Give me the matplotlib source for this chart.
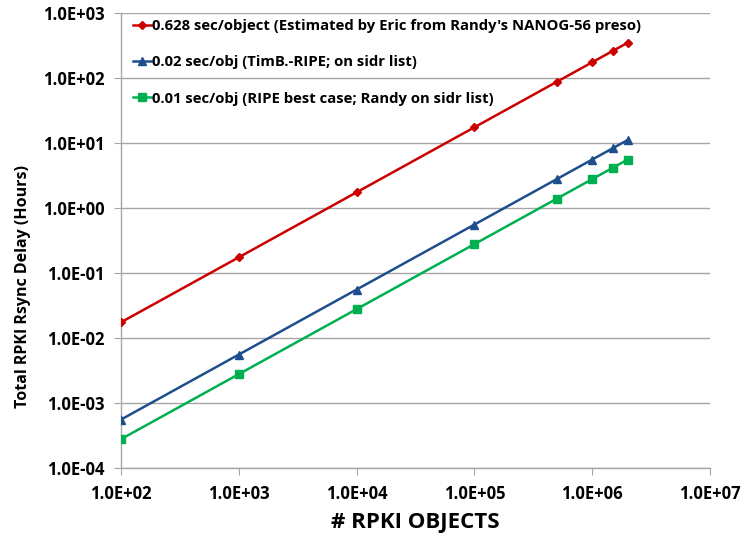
import matplotlib
matplotlib.use("Agg")
import matplotlib.pyplot as plt
import matplotlib.ticker as mticker

# RPKI object counts
objects = [100, 1000, 10000, 100000, 500000, 1000000, 1500000, 2000000]

# Total rsync delay (hours)
red_hours = [0.01744, 0.1744, 1.744, 17.44, 87.2, 174.4, 261.7, 348.9]
blue_hours = [0.000556, 0.00556, 0.0556, 0.556, 2.78, 5.56, 8.33, 11.11]
green_hours = [0.000278, 0.00278, 0.0278, 0.278, 1.39, 2.78, 4.17, 5.56]

labels = [
    "0.628 sec/object (Estimated by Eric from Randy's NANOG-56 preso)",
    "0.02 sec/obj (TimB.-RIPE; on sidr list)",
    "0.01 sec/obj (RIPE best case; Randy on sidr list)",
]

plt.rcParams["font.family"] = ["Open Sans", "DejaVu Sans"]
plt.rcParams["font.weight"] = "bold"

fig = plt.figure(figsize=(7.45, 5.39), dpi=100)
ax = fig.add_axes([0.1624, 0.1317, 0.7906, 0.8442])

ax.plot(objects, red_hours, color="#CC0000", lw=1.8, marker="D", ms=4.5,
        label=labels[0], zorder=4)
ax.plot(objects, blue_hours, color="#1F4E8C", lw=1.8, marker="^", ms=5.5,
        label=labels[1], zorder=4)
ax.plot(objects, green_hours, color="#00B050", lw=1.8, marker="s", ms=5.5,
        label=labels[2], zorder=4)

ax.set_xscale("log")
ax.set_yscale("log")
ax.set_xlim(1e2, 1e7)
ax.set_ylim(1e-4, 1e3)

ax.xaxis.set_major_locator(mticker.LogLocator(base=10, numticks=20))
ax.yaxis.set_major_locator(mticker.LogLocator(base=10, numticks=20))
ax.xaxis.set_minor_locator(mticker.NullLocator())
ax.yaxis.set_minor_locator(mticker.NullLocator())

def _sci(v, _):
    return f"{v:.1E}"

ax.xaxis.set_major_formatter(mticker.FuncFormatter(_sci))
ax.yaxis.set_major_formatter(mticker.FuncFormatter(_sci))

ax.grid(True, axis="y", color="#A6A6A6", lw=1.0, zorder=0)
for side in ("top", "right"):
    ax.spines[side].set_visible(False)
for side in ("left", "bottom"):
    ax.spines[side].set_color("#A6A6A6")
    ax.spines[side].set_linewidth(1.0)

ax.tick_params(axis="both", which="major", direction="out", length=5,
               color="#A6A6A6", labelsize=12, pad=7)
for lbl in ax.get_xticklabels() + ax.get_yticklabels():
    lbl.set_fontweight("bold")

# y label sits lower than centre in the original
ax.set_ylabel("Total RPKI Rsync Delay (Hours)", fontsize=11.5, fontweight="bold")
ax.yaxis.set_label_coords(-0.153, 0.40)
ax.set_xlabel("# RPKI OBJECTS", fontsize=16, fontweight="bold", labelpad=7)

ax.legend(loc="upper left", frameon=False, handlelength=1.2,
          handletextpad=0.1, labelspacing=1.5, borderaxespad=0.0,
          bbox_to_anchor=(0.01, 1.0), prop={"weight": "bold", "size": 10.7})

fig.savefig("out.png", dpi=100)
